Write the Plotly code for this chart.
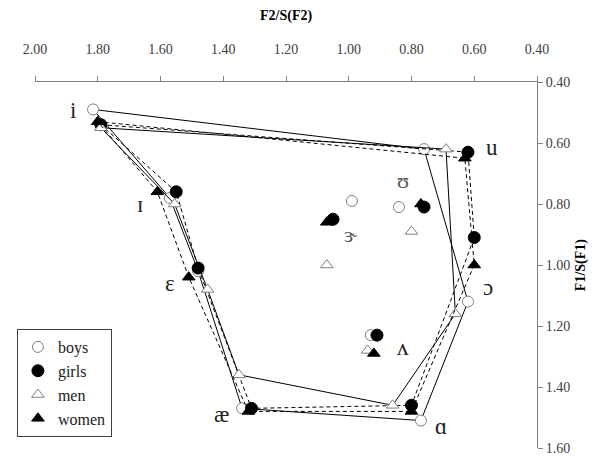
import plotly.graph_objects as go

vowels = ["i", "ɪ", "ɛ", "æ", "ɑ", "ɔ", "u", "ʊ", "ɝ", "ʌ"]
boys_f2 = [1.815, 1.57, 1.48, 1.34, 0.77, 0.62, 0.76, 0.84, 0.99, 0.93]
boys_f1 = [0.49, 0.78, 1.02, 1.47, 1.51, 1.12, 0.62, 0.81, 0.79, 1.23]
girls_f2 = [1.79, 1.55, 1.48, 1.31, 0.80, 0.60, 0.62, 0.76, 1.05, 0.91]
girls_f1 = [0.54, 0.76, 1.01, 1.47, 1.46, 0.91, 0.63, 0.81, 0.85, 1.23]
men_f2 = [1.79, 1.555, 1.45, 1.35, 0.86, 0.66, 0.69, 0.80, 1.07, 0.94]
men_f1 = [0.55, 0.80, 1.08, 1.36, 1.46, 1.16, 0.62, 0.89, 1.00, 1.28]
women_f2 = [1.80, 1.61, 1.51, 1.32, 0.80, 0.60, 0.63, 0.77, 1.07, 0.92]
women_f1 = [0.53, 0.76, 1.04, 1.48, 1.48, 1.00, 0.65, 0.80, 0.86, 1.29]

# polygon order: i, u, ɔ, ɑ, æ, ɛ, ɪ, back to i
polygon = ["i", "u", "ɔ", "ɑ", "æ", "ɛ", "ɪ", "i"]

label_text = ["i", "ɪ", "ɛ", "æ", "ɑ", "ɔ", "u", "ʊ", "ɝ", "ʌ"]
label_f2 = [1.879, 1.665, 1.570, 1.407, 0.706, 0.556, 0.545, 0.827, 0.993, 0.827]
label_f1 = [0.495, 0.800, 1.060, 1.490, 1.530, 1.075, 0.615, 0.722, 0.900, 1.272]

x_ticks = [2.0, 1.8, 1.6, 1.4, 1.2, 1.0, 0.8, 0.6, 0.4]
y_ticks = [0.4, 0.6, 0.8, 1.0, 1.2, 1.4, 1.6]

SERIF = "Liberation Serif, Times New Roman, serif"

series = [
    ("boys", boys_f2, boys_f1, "solid", dict(symbol="circle", size=11, color="white", line=dict(color="#808080", width=1))),
    ("girls", girls_f2, girls_f1, "dash", dict(symbol="circle", size=12, color="black", line=dict(color="black", width=1))),
    ("men", men_f2, men_f1, "solid", dict(symbol="triangle-up", size=11, color="white", line=dict(color="#808080", width=1))),
    ("women", women_f2, women_f1, "dash", dict(symbol="triangle-up", size=11, color="black", line=dict(color="black", width=1))),
]

fig = go.Figure()
idx = {v: k for k, v in enumerate(vowels)}
for name, f2, f1, dash, marker in series:
    px = [f2[idx[v]] for v in polygon]
    py = [f1[idx[v]] for v in polygon]
    fig.add_trace(go.Scatter(
        x=px, y=py, mode="lines", name=name, legendgroup=name,
        line=dict(color="black", width=1, dash="4px,3px" if dash == "dash" else "solid"),
        showlegend=False, hoverinfo="skip",
    ))
    fig.add_trace(go.Scatter(
        x=f2, y=f1, mode="markers", name=name, legendgroup=name,
        marker=marker, showlegend=True, text=vowels,
    ))

for t, lx, ly in zip(label_text, label_f2, label_f1):
    small = t in ("ʊ", "ɝ")
    fig.add_annotation(
        x=lx, y=ly, text=t, showarrow=False,
        font=dict(family=SERIF, size=22 if small else 23, color="#555555" if small else "#222222"),
    )

fig.add_annotation(
    xref="paper", yref="paper", x=0.5, y=1.18, text="<b>F2/S(F2)</b>", showarrow=False,
    font=dict(family=SERIF, size=14, color="black"), xanchor="center", yanchor="middle",
)
fig.add_annotation(
    xref="paper", yref="paper", x=1.088, y=0.5, text="<b>F1/S(F1)</b>", showarrow=False,
    textangle=-90, font=dict(family=SERIF, size=14, color="black"), xanchor="center", yanchor="middle",
)

fig.update_layout(
    width=601, height=457,
    margin=dict(l=27, r=72, t=74, b=9),
    paper_bgcolor="white", plot_bgcolor="white",
    font=dict(family=SERIF, size=14, color="#404040"),
    showlegend=True,
    legend=dict(
        x=-0.036, y=0.03, xanchor="left", yanchor="bottom",
        bgcolor="white", bordercolor="#404040", borderwidth=1,
        font=dict(family=SERIF, size=16, color="#202020"),
        itemwidth=30, tracegroupgap=0, traceorder="normal",
    ),
    xaxis=dict(
        side="top", range=[2.0, 0.4], tickvals=x_ticks, tickformat=".2f",
        showgrid=False, zeroline=False, showline=True, linecolor="#808080", linewidth=1,
        ticks="outside", ticklen=5, tickcolor="#808080", ticklabelstandoff=16,
        tickfont=dict(family=SERIF, size=14, color="#404040"),
    ),
    yaxis=dict(
        side="right", range=[1.6, 0.4], tickvals=y_ticks, tickformat=".2f",
        showgrid=False, zeroline=False, showline=True, linecolor="#808080", linewidth=1,
        ticks="outside", ticklen=5, tickcolor="#808080",
        tickfont=dict(family=SERIF, size=14, color="#404040"),
    ),
)

fig.write_html("out.html")
